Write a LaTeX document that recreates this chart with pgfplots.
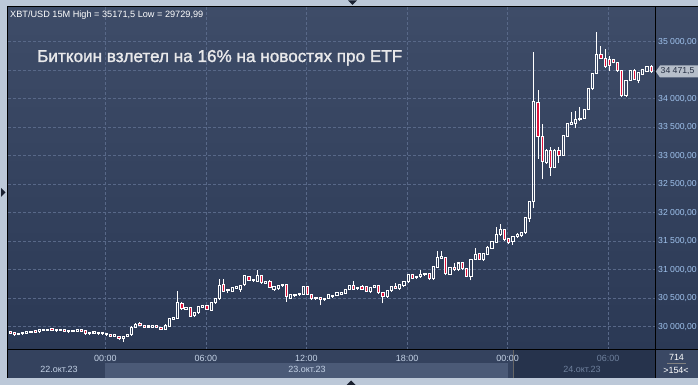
\documentclass[border=0pt]{standalone}
\usepackage{fontspec}
\setmainfont{Liberation Sans}
\newfontfamily\titlefont{Liberation Sans}[FakeBold=1.6]
\usepackage{pgfplots}
\usepackage{pgfplotstable}
\pgfplotsset{compat=1.18}
\definecolor{outer}{RGB}{188,200,216}
\definecolor{bgtop}{RGB}{62,76,104}
\definecolor{bgbot}{RGB}{43,57,85}
\definecolor{gridc}{RGB}{88,104,136}
\definecolor{candred}{RGB}{222,18,58}
\definecolor{axtxt}{RGB}{160,195,238}
\definecolor{timetxt}{RGB}{196,210,230}
\definecolor{dimtxt}{RGB}{110,128,156}
\definecolor{rowtime}{RGB}{52,66,94}
\definecolor{rowdate}{RGB}{75,90,119}
\definecolor{selbox}{RGB}{38,51,76}
\definecolor{cornerbg}{RGB}{58,72,100}
\definecolor{tagbg}{RGB}{182,190,202}
\definecolor{tagtxt}{RGB}{36,46,66}
\definecolor{tri}{RGB}{25,32,48}
\definecolor{titletxt}{RGB}{232,232,234}

% x = candle index (15 min), o h l c
\pgfplotstableread{
x o h l c
0 29915 29925 29865 29890
1 29895 29900 29845 29870
6 29928 29935 29895 29903
10 29965 29975 29930 29940
12 29962 29968 29930 29937
13 29945 29950 29915 29920
15 29942 29946 29910 29917
17 29950 29955 29920 29925
18 29930 29935 29870 29880
21 29905 29910 29875 29880
23 29885 29895 29850 29860
24 29862 29866 29825 29837
26 29830 29840 29770 29790
31 30062 30075 30020 30030
32 30030 30035 29985 29995
35 30015 30022 29980 29990
36 29995 30000 29945 29955
41 30405 30430 30300 30320
43 30345 30355 30170 30185
47 30375 30390 30295 30305
51 30750 30840 30610 30620
57 30885 30895 30810 30820
60 30900 30910 30760 30770
62 30800 30820 30680 30690
66 30740 30745 30440 30525
71 30700 30710 30560 30570
72 30570 30575 30490 30495
74 30510 30515 30375 30480
82 30730 30800 30650 30660
84 30710 30730 30650 30660
85 30710 30720 30615 30625
88 30717 30730 30590 30595
89 30600 30610 30410 30540
92 30710 30760 30670 30680
96 30913 30920 30845 30855
100 30930 30940 30830 30845
104 31208 31215 30900 30930
106 31046 31120 30990 31000
108 31120 31125 31010 31017
109 31017 31025 30870 30884
112 31280 31290 31180 31190
118 31710 31720 31520 31526
119 31549 31555 31450 31480
126 33935 34150 32950 33333
127 33333 33560 32584 32894
129 33100 33150 32650 32795
131 33100 33160 32870 33011
141 34784 34930 34700 34707
142 34707 34870 34540 34561
143 34690 34750 34480 34590
144 34690 34700 34620 34640
145 34631 34650 34480 34491
146 34491 34500 34040 34052
149 34503 34530 34330 34340
153 34565 34590 34465 34471.5
}\down

\pgfplotstableread{
x o h l c
2 29865 29895 29850 29890
3 29875 29905 29855 29900
4 29885 29920 29875 29912
5 29900 29928 29893 29925
7 29915 29958 29910 29945
8 29940 29968 29938 29962
9 29935 29968 29930 29960
11 29930 29962 29925 29955
14 29915 29945 29910 29940
16 29920 29962 29915 29945
19 29880 29910 29875 29905
20 29885 29915 29880 29910
22 29875 29910 29868 29900
25 29835 29880 29830 29860
27 29790 29845 29730 29835
28 29835 29868 29828 29860
29 29860 30010 29855 29995
30 29995 30060 29985 30040
33 29990 30020 29985 30015
34 29995 30025 29990 30020
37 29955 30040 29950 30030
38 30010 30150 30000 30140
39 30135 30175 30125 30160
40 30150 30620 30140 30420
42 30310 30350 30300 30340
44 30195 30265 30185 30255
45 30245 30360 30240 30350
46 30345 30385 30335 30370
48 30290 30430 30280 30420
49 30420 30510 30410 30500
50 30495 30830 30490 30730
52 30635 30665 30600 30660
53 30620 30700 30610 30690
54 30675 30710 30665 30700
55 30660 30740 30610 30730
56 30740 30910 30735 30900
58 30805 30840 30795 30830
59 30800 30990 30795 30900
61 30765 30800 30755 30790
63 30650 30710 30640 30700
64 30670 30730 30660 30720
65 30720 30755 30710 30745
67 30500 30570 30490 30560
68 30545 30580 30540 30570
69 30560 30600 30555 30590
70 30570 30710 30560 30700
73 30490 30525 30485 30515
75 30475 30505 30470 30500
76 30500 30570 30495 30560
77 30525 30555 30515 30550
78 30550 30610 30545 30600
79 30570 30605 30565 30595
80 30585 30670 30580 30660
81 30660 30740 30655 30730
83 30665 30700 30660 30692
86 30625 30700 30600 30690
87 30690 30730 30685 30718
90 30530 30645 30525 30636
91 30630 30715 30625 30710
93 30670 30755 30650 30745
94 30717 30810 30700 30800
95 30790 30920 30785 30913
97 30860 30895 30855 30888
98 30880 31000 30875 30920
99 30915 30950 30910 30940
101 30845 31065 30840 31058
102 31046 31323 31040 31220
103 31205 31320 31195 31230
105 30925 31050 30915 31040
107 31000 31125 30995 31120
110 30884 31195 30815 31190
111 31190 31380 31185 31277
113 31173 31295 31165 31289
114 31277 31420 31270 31393
115 31375 31500 31370 31490
116 31480 31750 31475 31612
117 31612 31809 31605 31710
120 31490 31585 31440 31578
121 31580 31650 31575 31615
122 31600 31655 31595 31650
123 31648 31925 31640 31917
124 31900 32200 31840 32192
125 32192 34813 32075 33947
128 32877 33110 32860 33100
130 32800 33110 32780 33100
132 33011 33370 33000 33362
133 33345 33575 33340 33567
134 33550 33770 33545 33580
135 33560 33780 33480 33630
136 33630 33860 33620 33660
137 33655 33820 33650 33812
138 33812 34190 33805 34181
139 34181 34450 34150 34444
140 34444 35171.5 34430 34784
147 34052 34335 34040 34327
148 34327 34510 34320 34503
150 34327 34465 34270 34456
151 34430 34520 34420 34510
152 34485 34580 34470 34561
}\up

\pgfplotsset{
  wick/.style={forget plot, draw=none, mark=none,
    error bars/.cd, y dir=plus, y explicit, error mark=none,
    error bar style={draw=white, line width=0.9bp}},
  body/.style={forget plot, draw=none, mark=none,
    error bars/.cd, y dir=plus, y explicit,
    draw error bar/.code 2 args={%
      \path ##1 coordinate (cA) ##2 coordinate (cB);
      \path[draw=white, line width=0.8bp, fill=#1] ([xshift=-1.1bp]cA) rectangle ([xshift=1.1bp]cB);}},
}
\newcommand{\sm}{\fontsize{9}{10.5}\selectfont}
\newcommand{\smr}{\fontsize{8.7}{10}\selectfont}

\begin{document}
\begin{tikzpicture}
\useasboundingbox (0,0) rectangle (698bp,385bp);
\clip (0,0) rectangle (698bp,385bp);
\fill[outer] (0,0) rectangle (698bp,385bp);
\shade[top color=bgtop, bottom color=bgbot] (8bp,35bp) rectangle (698bp,378bp);
\fill[rowtime] (8bp,7bp) rectangle (655bp,35bp);
\fill[rowdate] (105bp,7bp) rectangle (508bp,22bp);
\fill[selbox] (513bp,7bp) rectangle (655bp,35bp);
\fill[cornerbg] (655bp,7bp) rectangle (698bp,35bp);

\begin{axis}[
  at={(8bp,35bp)}, anchor=south west,
  width=647bp, height=343bp, scale only axis,
  xmin=-0.48, xmax=153.93, ymin=29592, ymax=35609,
  scaled ticks=false,
  axis line style={draw=none},
  xtick={22.75,46.75,70.75,94.75,118.75,142.75},
  xticklabels={00:00,06:00,12:00,18:00,00:00,{\textcolor{dimtxt}{06:00}}},
  ytick={30000,30500,...,35000},
  yticklabels={{30 000,00},{30 500,00},{31 000,00},{31 500,00},{32 000,00},{32 500,00},{33 000,00},{33 500,00},{34 000,00},{},{35 000,00}},
  yticklabel pos=right,
  major tick length=0pt,
  tick style={draw=none},
  grid=major,
  grid style={gridc, dash pattern=on 2.5bp off 2.5bp, line width=0.6bp},
  xticklabel style={font=\sm, text=timetxt, anchor=center, inner sep=0pt, yshift=-8bp},
  yticklabel style={font=\smr, text=axtxt, anchor=west, inner sep=0pt, xshift=3bp},
]
% wicks (below and above the bodies)
\addplot[wick] table[x=x, y=l, y error plus expr={min(\thisrow{o},\thisrow{c})-\thisrow{l}}] {\up};
\addplot[wick] table[x=x, y expr={max(\thisrow{o},\thisrow{c})}, y error plus expr={\thisrow{h}-max(\thisrow{o},\thisrow{c})}] {\up};
\addplot[wick] table[x=x, y=l, y error plus expr={min(\thisrow{o},\thisrow{c})-\thisrow{l}}] {\down};
\addplot[wick] table[x=x, y expr={max(\thisrow{o},\thisrow{c})}, y error plus expr={\thisrow{h}-max(\thisrow{o},\thisrow{c})}] {\down};
% bodies
\addplot[body=none] table[x=x, y expr={min(\thisrow{o},\thisrow{c})}, y error plus expr={abs(\thisrow{c}-\thisrow{o})}] {\up};
\addplot[body=candred] table[x=x, y expr={min(\thisrow{o},\thisrow{c})}, y error plus expr={abs(\thisrow{c}-\thisrow{o})}] {\down};
\end{axis}

% frame lines
\draw[black, line width=1bp] (7.5bp,7bp) -- (7.5bp,378.5bp) -- (698bp,378.5bp);
\draw[black, line width=1bp] (7bp,35bp) -- (698bp,35bp);
\draw[black, line width=1bp] (655bp,7bp) -- (655bp,378.5bp);
\draw[black!60, line width=0.6bp] (513bp,7bp) -- (513bp,35bp);

% price tag
\fill[tagbg] (655.8bp,313.5bp) -- (660bp,319.5bp) -- (700bp,319.5bp) -- (700bp,307.5bp) -- (660bp,307.5bp) -- cycle;
\node[anchor=west, inner sep=0pt, font=\smr, text=tagtxt] at (660.5bp,313.5bp) {34 471,5};

% texts
\node[anchor=base west, inner sep=0pt, font=\fontsize{9.2}{11}\selectfont, text=white] at (10bp,367bp) {XBT/USD 15M High = 35171,5 Low = 29729,99};
\node[anchor=base west, inner sep=0pt, font=\titlefont\fontsize{17.2}{20}\selectfont, text=titletxt] at (37bp,323bp) {Биткоин взлетел на 16\% на новостях про ETF};
\node[inner sep=0pt, font=\sm, text=timetxt] at (59bp,15.5bp) {22.окт.23};
\node[inner sep=0pt, font=\sm, text=timetxt] at (307bp,15.5bp) {23.окт.23};
\node[inner sep=0pt, font=\sm, text=dimtxt] at (582bp,15.5bp) {24.окт.23};
\node[inner sep=0pt, font=\sm, text=white] at (676.5bp,27.5bp) {714};
\draw[gray, line width=0.6bp] (667bp,21.5bp) -- (686bp,21.5bp);
\node[inner sep=0pt, font=\sm, text=white] at (676bp,14.5bp) {>154<};

% small triangles on the frame
\fill[tri] (348bp,384.5bp) -- (357bp,384.5bp) -- (352.5bp,380bp) -- cycle;
\fill[tri] (1bp,197bp) -- (1bp,188bp) -- (5.5bp,192.5bp) -- cycle;
\fill[tri] (346.5bp,0bp) -- (355.5bp,0bp) -- (351bp,4.5bp) -- cycle;
\end{tikzpicture}
\end{document}
